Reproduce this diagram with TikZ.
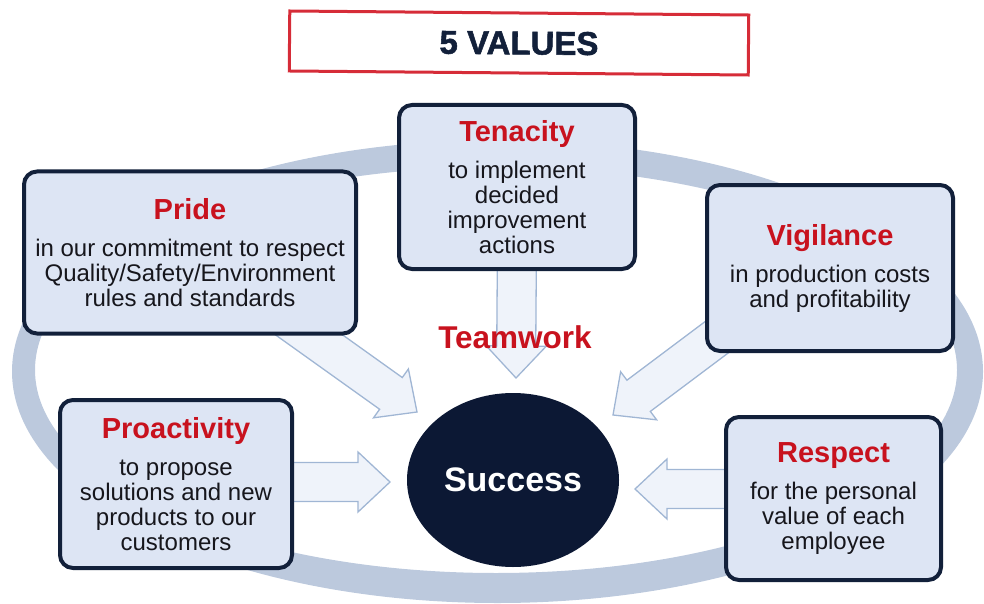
\documentclass[tikz,border=0pt]{standalone}
\usepackage{fontspec}
\setmainfont{Liberation Sans}
\newfontfamily\heavyfont[BoldFeatures={FakeBold=1.6}]{Liberation Sans}
\usetikzlibrary{calc,shapes.geometric}
\definecolor{navy}{RGB}{18,32,58}
\definecolor{boxfill}{RGB}{221,229,244}
\definecolor{valred}{RGB}{200,18,30}
\definecolor{ringblue}{RGB}{188,201,221}
\definecolor{arrfill}{RGB}{239,243,250}
\definecolor{arredge}{RGB}{160,182,212}
\definecolor{titlered}{RGB}{214,44,56}
\definecolor{succfill}{RGB}{12,24,52}
\definecolor{bodytext}{RGB}{22,22,28}
\pgfdeclarelayer{bg}
\pgfsetlayers{bg,main}
\newcommand{\bodyfont}{\fontsize{24}{25}\selectfont}
\newcommand{\valtitle}[1]{{\fontsize{29}{30}\selectfont\bfseries\color{valred}#1}}
\tikzset{
  valuebox/.style={draw=navy, line width=4pt, fill=boxfill, rounded corners=13pt,
    align=center, inner sep=0pt, font=\bodyfont, text=bodytext},
  fatarrow/.style={fill=arrfill, draw=arredge, line width=1.3pt, line join=miter},
}
% block arrow from #1 to the tip #2
\newcommand{\fatarrow}[2]{%
  \draw[fatarrow] let \p1=(#1), \p2=(#2),
    \n1={atan2(\y2-\y1,\x2-\x1)}, \n2={veclen(\x2-\x1,\y2-\y1)-32} in
    ($(\p1)+(\n1+90:19.5pt)$) -- ($(\p1)+(\n1:\n2)+(\n1+90:19.5pt)$)
    -- ($(\p1)+(\n1:\n2)+(\n1+90:30pt)$) -- (\p2)
    -- ($(\p1)+(\n1:\n2)+(\n1-90:30pt)$) -- ($(\p1)+(\n1:\n2)+(\n1-90:19.5pt)$)
    -- ($(\p1)+(\n1-90:19.5pt)$) -- cycle;}
\begin{document}
\begin{tikzpicture}[x=1pt,y=-1pt]
  \useasboundingbox (0,0) rectangle (984,604);

  % title
  \node[draw=titlered, line width=3pt, minimum width=459pt, minimum height=60pt, rotate=-0.5,
    font=\heavyfont\fontsize{33}{34}\selectfont\bfseries, text=navy] (title) at (519,43) {5 VALUES};

  % the five values
  \node[valuebox, minimum width=332pt, minimum height=162pt] (pride) at (190,252.5)
    {\valtitle{Pride}\\[12pt] in our commitment to respect\\Quality/Safety/Environment\\rules and standards};
  \node[valuebox, minimum width=236pt, minimum height=164pt] (tenacity) at (517,187)
    {\valtitle{Tenacity}\\[12pt] to implement\\decided\\improvement\\actions};
  \node[valuebox, minimum width=246pt, minimum height=166pt] (vigilance) at (830,268)
    {\valtitle{Vigilance}\\[12pt] in production costs\\and profitability};
  \node[valuebox, minimum width=232pt, minimum height=168pt] (proactivity) at (176,484)
    {\valtitle{Proactivity}\\[12pt] to propose\\solutions and new\\products to our\\customers};
  \node[valuebox, minimum width=215pt, minimum height=163pt] (respect) at (833.5,498.5)
    {\valtitle{Respect}\\[12pt] for the personal\\value of each\\employee};

  % centre
  \node[ellipse, fill=succfill, minimum width=212pt, minimum height=174pt, inner sep=0pt,
    text=white, font=\fontsize{34}{36}\selectfont\bfseries] (succ) at (513,480) {Success};
  \node[text=valred, font=\fontsize{31.5}{33}\selectfont\bfseries] (team) at (515,337) {Teamwork};

  \coordinate (tenS) at (517,240);   \coordinate (tenT) at (516,378);
  \coordinate (prideS) at (270,307); \coordinate (prideT) at (417,412);
  \coordinate (vigS) at (725,331);   \coordinate (vigT) at (613,415);
  \coordinate (proS) at (270,482);   \coordinate (proT) at (390,482);
  \coordinate (resS) at (750,489);   \coordinate (resT) at (635,489);

  \begin{pgfonlayer}{bg}
    % ring
    \fill[ringblue, even odd rule] (497.5,371.5) ellipse [x radius=485.5pt, y radius=231.5pt]
      (496,370) ellipse [x radius=461pt, y radius=203pt];
    \fatarrow{tenS}{tenT}
    \fatarrow{prideS}{prideT}
    \fatarrow{vigS}{vigT}
    \fatarrow{proS}{proT}
    \fatarrow{resS}{resT}
  \end{pgfonlayer}
\end{tikzpicture}
\end{document}
